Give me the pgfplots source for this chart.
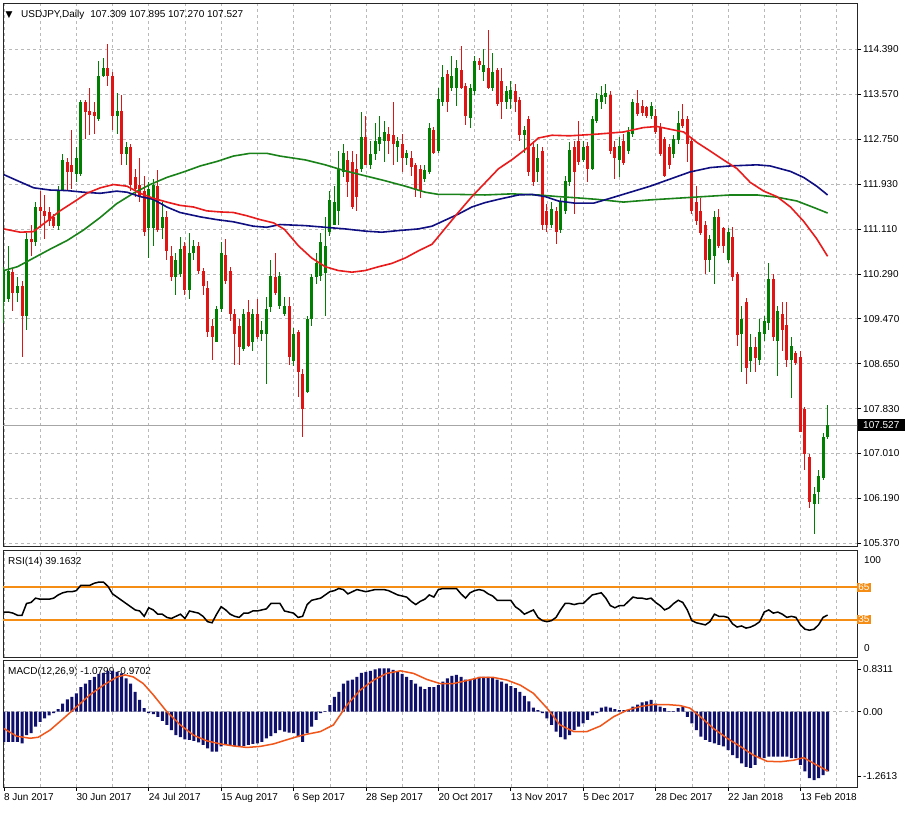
\documentclass[border=0pt]{standalone}
\usepackage{pgfplots}
\pgfplotsset{compat=1.18}
\usepackage{pgfplotstable}
\usepackage{fontspec}
\setmainfont{Liberation Sans}
\newfontfamily\dejavu{DejaVu Sans}

\definecolor{cgreen}{RGB}{0,128,0}
\definecolor{cred}{RGB}{225,20,20}
\definecolor{mared}{RGB}{232,28,28}
\definecolor{mablue}{RGB}{15,15,130}
\definecolor{magreen}{RGB}{25,130,25}
\definecolor{gridc}{RGB}{185,185,185}
\definecolor{rsiorange}{RGB}{245,140,20}
\definecolor{navyh}{RGB}{15,15,110}
\definecolor{sigc}{RGB}{240,85,25}

% daily candles: bar index, open, high, low, close
\pgfplotstableread{
b o h l c
0 109.78 110.42 109.40 110.35
1 109.84 110.80 109.78 110.35
2 110.32 110.39 109.62 109.94
3 109.94 110.23 109.78 110.07
4 110.07 110.16 108.78 109.52
5 109.52 111.03 109.27 110.93
6 110.93 111.19 110.61 110.87
7 110.87 111.60 110.80 111.51
8 111.51 111.80 111.12 111.44
9 111.44 111.73 110.93 111.35
10 111.41 111.51 111.16 111.25
11 111.32 111.38 111.12 111.16
12 111.16 111.89 111.09 111.83
13 111.83 112.47 111.80 112.37
14 112.34 112.40 111.83 112.15
15 112.28 112.92 111.83 112.15
16 112.12 112.60 111.96 112.40
17 112.12 113.46 112.08 113.43
18 113.43 113.46 112.76 113.24
19 113.27 113.69 112.82 113.20
20 113.24 113.43 112.85 113.17
21 113.11 114.17 113.08 113.91
22 113.91 114.23 113.88 114.04
23 114.04 114.49 113.72 113.91
24 113.91 113.97 112.92 113.17
25 113.17 113.59 112.85 113.27
26 113.27 113.56 112.28 112.47
27 112.47 112.69 112.28 112.60
28 112.60 112.66 111.80 111.92
29 112.05 112.21 111.70 111.83
30 111.92 112.40 111.60 111.70
31 111.80 112.08 110.99 111.06
32 111.12 111.96 110.58 111.83
33 111.12 112.02 110.80 111.92
34 111.89 112.18 111.06 111.09
35 111.12 111.60 110.93 111.32
36 111.32 111.44 110.55 110.71
37 110.61 110.80 110.16 110.23
38 110.23 110.67 109.91 110.55
39 110.29 110.96 110.23 110.74
40 110.80 110.87 109.91 110.00
41 110.00 111.03 109.84 110.67
42 110.67 110.90 110.55 110.80
43 110.80 110.87 110.29 110.35
44 110.35 110.39 109.91 110.07
45 110.03 110.16 109.14 109.23
46 109.33 109.46 108.72 109.14
47 109.04 109.71 109.04 109.65
48 109.65 110.87 109.59 110.67
49 110.64 110.93 110.10 110.16
50 110.35 110.42 109.43 109.55
51 109.55 109.65 108.63 109.20
52 109.33 109.46 108.63 108.95
53 108.91 109.65 108.88 109.55
54 109.59 109.81 108.95 108.98
55 109.04 109.65 108.88 109.55
56 109.55 109.84 109.11 109.14
57 109.20 109.43 109.07 109.27
58 109.20 109.87 108.27 109.65
59 109.68 110.55 109.59 110.26
60 110.23 110.67 109.91 109.94
61 109.71 110.32 109.65 110.26
62 109.55 109.87 109.52 109.71
63 109.71 109.87 108.63 108.78
64 108.70 109.30 108.60 109.20
65 109.23 109.27 108.05 108.50
66 108.46 108.56 107.31 107.83
67 108.14 109.52 108.11 109.46
68 109.46 110.29 109.33 110.23
69 110.23 110.67 110.10 110.48
70 110.26 111.03 110.16 110.87
71 110.30 111.32 109.52 110.80
72 111.06 111.80 110.99 111.64
73 111.19 111.89 111.19 111.60
74 111.44 112.53 111.19 112.21
75 112.15 112.66 112.05 112.50
76 112.37 112.53 111.70 111.96
77 112.34 112.53 111.47 111.51
78 112.21 112.47 111.44 111.70
79 112.21 113.24 112.15 112.79
80 112.79 113.17 112.28 112.28
81 112.28 112.72 112.21 112.47
82 112.47 113.04 112.37 112.72
83 112.66 113.17 112.53 112.79
84 112.72 113.08 112.34 112.88
85 112.85 112.98 112.47 112.72
86 112.82 113.43 112.28 112.66
87 112.60 112.79 112.34 112.72
88 112.66 112.85 112.15 112.40
89 112.40 112.56 112.28 112.50
90 112.40 112.53 112.08 112.24
91 112.28 112.31 111.70 111.83
92 112.21 112.28 111.67 111.80
93 112.02 112.28 111.96 112.18
94 112.15 113.04 112.12 112.95
95 112.92 112.98 112.47 112.50
96 112.53 113.69 112.50 113.49
97 113.43 114.10 113.36 113.88
98 113.94 114.01 113.24 113.43
99 113.69 114.26 113.62 113.91
100 113.69 114.20 113.36 114.04
101 114.01 114.45 113.66 113.69
102 113.72 113.78 113.01 113.17
103 113.14 113.75 112.95 113.69
104 113.62 114.26 113.56 114.17
105 114.17 114.23 114.01 114.10
106 113.98 114.39 113.81 114.10
107 114.04 114.74 113.66 113.69
108 113.69 114.33 113.62 113.97
109 114.01 114.04 113.36 113.40
110 113.81 114.04 113.11 113.43
111 113.43 113.72 113.30 113.62
112 113.49 113.81 113.30 113.65
113 113.62 113.75 113.24 113.43
114 113.46 113.52 112.72 112.82
115 112.82 112.98 112.50 112.92
116 113.11 113.17 112.08 112.15
117 112.60 112.72 111.89 111.96
118 112.15 112.66 111.96 112.40
119 112.53 112.60 111.09 111.19
120 111.44 111.57 111.06 111.19
121 111.19 111.60 111.12 111.47
122 111.44 111.51 110.83 111.06
123 111.09 111.67 111.03 111.60
124 111.44 112.08 111.38 111.99
125 111.96 112.69 111.89 112.56
126 112.60 112.72 111.38 112.15
127 112.72 113.08 112.28 112.34
128 112.37 112.72 112.34 112.60
129 112.63 112.69 111.96 112.21
130 112.21 113.17 112.18 113.11
131 113.08 113.59 113.04 113.49
132 113.43 113.72 113.30 113.56
133 113.52 113.75 113.40 113.59
134 113.56 113.62 112.47 112.53
135 112.60 112.72 112.02 112.40
136 112.37 112.79 112.05 112.63
137 112.72 112.85 112.28 112.31
138 112.53 112.98 112.47 112.88
139 112.85 113.49 112.79 113.43
140 113.40 113.65 113.17 113.20
141 113.36 113.46 113.17 113.23
142 113.33 113.36 113.14 113.17
143 113.17 113.43 113.11 113.36
144 113.17 113.30 112.85 112.88
145 112.95 113.04 112.44 112.47
146 112.76 112.79 112.05 112.08
147 112.60 112.66 112.21 112.28
148 112.47 112.82 112.40 112.76
149 112.73 113.27 112.66 113.04
150 113.11 113.40 112.95 112.98
151 113.11 113.17 112.34 112.66
152 112.72 112.79 111.38 111.44
153 111.60 111.89 111.19 111.25
154 111.44 111.67 110.99 111.03
155 111.19 111.25 110.29 110.55
156 110.55 111.00 110.32 110.93
157 110.61 111.44 110.10 111.32
158 111.32 111.47 110.77 110.80
159 111.12 111.15 110.67 110.80
160 110.55 111.12 110.48 111.06
161 110.96 111.15 110.16 110.23
162 110.29 110.32 108.98 109.17
163 109.20 109.71 108.50 109.46
164 109.78 109.84 108.27 108.57
165 108.69 109.20 108.50 108.95
166 108.95 109.14 108.50 108.75
167 108.72 109.46 108.63 109.23
168 109.20 109.52 109.07 109.43
169 109.40 110.48 109.27 110.19
170 110.19 110.29 109.07 109.14
171 109.07 109.71 108.43 109.62
172 109.55 109.78 108.88 109.27
173 109.36 109.78 108.59 108.72
174 108.72 109.14 108.02 108.98
175 108.85 108.88 108.63 108.66
176 108.78 108.88 107.41 107.41
177 107.83 107.85 106.71 107.01
178 106.95 107.00 106.01 106.13
179 106.09 106.40 105.55 106.28
180 106.31 106.71 106.09 106.59
181 106.56 107.38 106.53 107.32
182 107.309 107.895 107.270 107.527
}\candles

% RSI(14) and MACD histogram per bar
\pgfplotstableread{
b rsi macd
0 42 -0.59
1 42 -0.59
2 41 -0.59
3 39 -0.59
4 39 -0.62
5 50 -0.46
6 51 -0.42
7 55 -0.29
8 54 -0.20
9 54 -0.13
10 54 -0.07
11 55 -0.03
12 58 0.05
13 60 0.16
14 61 0.24
15 61 0.29
16 62 0.36
17 67 0.48
18 67 0.55
19 67 0.62
20 69 0.68
21 70 0.74
22 70 0.76
23 66 0.80
24 59 0.80
25 56 0.78
26 53 0.75
27 50 0.65
28 47 0.55
29 44 0.39
30 43 0.23
31 38 0.07
32 46 -0.03
33 44 -0.05
34 40 -0.10
35 40 -0.18
36 37 -0.26
37 36 -0.36
38 38 -0.46
39 40 -0.50
40 36 -0.54
41 43 -0.55
42 42 -0.57
43 41 -0.60
44 38 -0.65
45 33 -0.72
46 32 -0.78
47 40 -0.78
48 47 -0.68
49 44 -0.65
50 40 -0.65
51 38 -0.68
52 37 -0.68
53 41 -0.67
54 41 -0.65
55 43 -0.63
56 43 -0.62
57 44 -0.59
58 45 -0.52
59 50 -0.48
60 50 -0.42
61 50 -0.36
62 43 -0.39
63 42 -0.41
64 41 -0.42
65 37 -0.50
66 38 -0.59
67 49 -0.42
68 53 -0.29
69 54 -0.16
70 55 -0.03
71 58 0.01
72 61 0.13
73 62 0.29
74 64 0.39
75 63 0.55
76 59 0.61
77 61 0.63
78 63 0.68
79 62 0.76
80 61 0.78
81 62 0.80
82 63 0.83
83 63 0.85
84 63 0.85
85 62 0.85
86 60 0.82
87 58 0.78
88 57 0.74
89 56 0.68
90 52 0.62
91 49 0.55
92 52 0.49
93 54 0.44
94 58 0.48
95 56 0.48
96 63 0.52
97 64 0.59
98 64 0.65
99 64 0.70
100 64 0.72
101 59 0.68
102 55 0.63
103 60 0.62
104 62 0.65
105 63 0.68
106 62 0.68
107 59 0.68
108 57 0.67
109 53 0.63
110 53 0.59
111 53 0.55
112 53 0.50
113 47 0.46
114 44 0.39
115 40 0.31
116 42 0.20
117 44 0.08
118 37 0.03
119 34 -0.03
120 33 -0.13
121 34 -0.26
122 37 -0.39
123 44 -0.50
124 50 -0.54
125 50 -0.46
126 49 -0.36
127 50 -0.29
128 50 -0.23
129 54 -0.16
130 58 -0.07
131 59 -0.03
132 60 0.08
133 55 0.10
134 48 0.08
135 46 0.05
136 48 0.03
137 48 0.03
138 52 0.03
139 56 0.10
140 55 0.14
141 55 0.18
142 54 0.20
143 55 0.23
144 51 0.16
145 48 0.10
146 44 0.07
147 46 0.01
148 50 0.01
149 53 0.07
150 51 0.10
151 44 -0.10
152 34 -0.23
153 32 -0.36
154 31 -0.49
155 30 -0.55
156 33 -0.59
157 40 -0.62
158 38 -0.65
159 38 -0.68
160 37 -0.75
161 31 -0.85
162 28 -0.91
163 29 -1.01
164 27 -1.08
165 28 -1.10
166 30 -1.04
167 33 -0.91
168 42 -0.91
169 44 -0.88
170 41 -0.88
171 42 -0.88
172 40 -0.88
173 37 -0.88
174 38 -0.91
175 37 -0.91
176 30 -1.04
177 26 -1.17
178 25 -1.30
179 26 -1.34
180 30 -1.30
181 37 -1.24
182 39.16 -1.17
}\ind

\pgfplotsset{
  mtpanel/.style={
    scale only axis, width=854pt, xmin=-0.2, xmax=188.5, anchor=south west,
    axis line style={black!85, line width=0.9pt},
    xtick={0,16,...,176}, minor xtick={8,24,...,184},
    xmajorgrids, xminorgrids, minor tick length=0pt,
    grid style={gridc, dash pattern=on 3pt off 3pt, line width=0.5pt},
    minor grid style={gridc, dash pattern=on 3pt off 3pt, line width=0.5pt},
    xticklabels={}, xtick style={draw=none},
    ytick pos=right, yticklabel pos=right,
    tick align=outside, major tick length=4pt,
    tick style={black, line width=0.6pt},
    ticklabel style={font=\fontsize{10}{12}\selectfont},
    yticklabel style={inner xsep=2pt},
  },
  wick/.style={draw=none, mark=none, forget plot,
    error bars/y dir=both, error bars/y explicit, error bars/error mark=none,
    error bars/error bar style={line width=1pt, draw=#1}},
  body/.style={draw=none, mark=none, forget plot,
    error bars/y dir=both, error bars/y explicit, error bars/error mark=none,
    error bars/error bar style={line width=3pt, draw=#1}},
}

\begin{document}
\begin{tikzpicture}
\useasboundingbox (0pt,0pt) rectangle (906pt,816pt);
\fill[white] (0pt,0pt) rectangle (906pt,816pt);

% ---------------- price panel ----------------
\begin{axis}[mtpanel, at={(3pt,270pt)}, height=543pt,
    ymin=105.321, ymax=115.235, ymajorgrids,
    ytick={105.37,106.19,107.01,107.83,108.65,109.47,110.29,111.11,111.93,112.75,113.57,114.39},
    yticklabels={105.370,106.190,107.010,107.830,108.650,109.470,110.290,111.110,111.930,112.750,113.570,114.390}]

\addplot[gray!70, line width=0.8pt, forget plot] coordinates {(-1,107.527) (190,107.527)};

\addplot[restrict expr to domain={\thisrow{c}-\thisrow{o}}{0:100}, wick=cgreen]
  table[x=b, y expr={(\thisrow{h}+\thisrow{l})/2}, y error expr={(\thisrow{h}-\thisrow{l})/2}] {\candles};
\addplot[restrict expr to domain={\thisrow{c}-\thisrow{o}}{-100:-0.00001}, wick=cred]
  table[x=b, y expr={(\thisrow{h}+\thisrow{l})/2}, y error expr={(\thisrow{h}-\thisrow{l})/2}] {\candles};
\addplot[restrict expr to domain={\thisrow{c}-\thisrow{o}}{0:100}, body=cgreen]
  table[x=b, y expr={(\thisrow{o}+\thisrow{c})/2}, y error expr={max(abs(\thisrow{c}-\thisrow{o})/2,0.012)}] {\candles};
\addplot[restrict expr to domain={\thisrow{c}-\thisrow{o}}{-100:-0.00001}, body=cred]
  table[x=b, y expr={(\thisrow{o}+\thisrow{c})/2}, y error expr={max(abs(\thisrow{c}-\thisrow{o})/2,0.012)}] {\candles};

% moving averages
\addplot[magreen, line width=1.6pt] coordinates {
(0,110.35)(3,110.42)(6.6,110.58)(10.2,110.74)(14,110.90)(17.6,111.09)(21.3,111.32)(24.9,111.57)(28.6,111.76)(32.3,111.92)(36,112.05)(39.7,112.15)(43.4,112.26)(47,112.34)(50.7,112.44)(54.4,112.49)(58.1,112.49)(61,112.44)(66.6,112.37)(71,112.28)(75.4,112.17)(79.8,112.08)(84.2,111.99)(88.7,111.89)(93.1,111.78)(96,111.74)(100.4,111.74)(106.3,111.73)(112.2,111.75)(118.1,111.73)(122.5,111.70)(126.2,111.68)(131,111.65)(136.9,111.60)(142.8,111.64)(148.7,111.67)(154.6,111.70)(160.5,111.73)(166.4,111.73)(170.8,111.69)(175.2,111.62)(179.6,111.48)(182,111.40)};
\addplot[mablue, line width=1.6pt] coordinates {
(0,112.10)(3,111.99)(6.6,111.86)(10.2,111.82)(14,111.81)(17.6,111.78)(21.3,111.76)(24.9,111.80)(27.2,111.78)(30.1,111.70)(33,111.65)(36,111.51)(38.9,111.41)(43.4,111.33)(47,111.28)(50.7,111.24)(55.1,111.16)(58.1,111.14)(61,111.19)(66.6,111.17)(71,111.14)(75.4,111.11)(79.8,111.07)(83.5,111.05)(87.2,111.08)(91.6,111.11)(94.6,111.16)(97.5,111.27)(100.4,111.38)(103.4,111.51)(106.3,111.59)(109.3,111.65)(113.7,111.73)(116.7,111.74)(119.6,111.70)(122.5,111.62)(126.2,111.58)(130.3,111.58)(134,111.67)(138.4,111.78)(142.8,111.89)(147.2,112.02)(151.6,112.15)(156.1,112.23)(160.5,112.26)(166.4,112.28)(169.3,112.26)(173.8,112.16)(176.7,112.05)(179.6,111.89)(182,111.73)};
\addplot[mared, line width=1.6pt] coordinates {
(0,111.11)(3.6,111.05)(6.5,111.06)(9.5,111.25)(12.4,111.44)(15.4,111.60)(18.3,111.76)(21.3,111.86)(24.2,111.92)(27.2,111.89)(30.1,111.76)(33,111.67)(36,111.60)(38.9,111.54)(41.9,111.51)(44.8,111.44)(47.8,111.42)(50.7,111.41)(53.7,111.35)(56.6,111.28)(59.6,111.22)(62,111.10)(65.1,110.80)(68,110.58)(71,110.42)(73.9,110.35)(76.9,110.32)(79.8,110.35)(82.8,110.42)(85.7,110.48)(88.7,110.58)(91.6,110.71)(94.6,110.83)(97.5,111.12)(100.4,111.41)(103.4,111.70)(106.3,111.95)(109.3,112.21)(112.2,112.37)(115.2,112.56)(118.1,112.77)(121.1,112.82)(125,112.81)(131,112.84)(136.9,112.88)(141.3,112.96)(144.3,112.98)(147.2,112.93)(150.2,112.88)(153.1,112.69)(156.1,112.53)(159,112.37)(162,112.21)(164.9,111.96)(167.9,111.80)(170.8,111.70)(173.8,111.51)(176.7,111.25)(179.6,110.93)(182,110.61)};
\end{axis}

% ---------------- RSI panel ----------------
\begin{axis}[mtpanel, at={(3pt,159pt)}, height=107pt,
    ymin=0, ymax=100, ytick=\empty]
\addplot[rsiorange, line width=2pt] coordinates {(-1,65) (190,65)};
\addplot[rsiorange, line width=2pt] coordinates {(-1,35) (190,35)};
\addplot[black, line width=1.5pt] table[x=b, y=rsi] {\ind};
\end{axis}

% MACD caption sits beneath the histogram
\node[anchor=west, inner sep=0pt, font=\fontsize{10}{12}\selectfont] at (8pt,144pt) {MACD(12,26,9) -1.0799 -0.9702};

% ---------------- MACD panel ----------------
\begin{axis}[mtpanel, at={(3pt,29pt)}, height=127pt,
    ymin=-1.474, ymax=1.012,
    ytick={-1.2613,0,0.8311}, yticklabels={-1.2613,0.00,0.8311},
    xtick pos=bottom, xtick style={draw=black},
    xticklabels={8 Jun 2017,30 Jun 2017,24 Jul 2017,15 Aug 2017,6 Sep 2017,28 Sep 2017,20 Oct 2017,13 Nov 2017,5 Dec 2017,28 Dec 2017,22 Jan 2018,13 Feb 2018},
    xticklabel style={anchor=north west, inner xsep=0pt, inner ysep=2pt}]
\addplot[gridc, dash pattern=on 3pt off 3pt, line width=0.5pt] coordinates {(-1,0) (190,0)};
\addplot[ybar, bar width=3pt, fill=navyh, draw=none] table[x=b, y=macd] {\ind};
\addplot[sigc, line width=1.5pt] coordinates {
(0,-0.33)(2.8,-0.48)(5.8,-0.52)(7.6,-0.50)(10.2,-0.36)(13.2,-0.13)(16.1,0.10)(19,0.33)(22,0.52)(25,0.68)(26.8,0.72)(28.6,0.68)(30.8,0.55)(33,0.33)(36,0.0)(39,-0.26)(41.9,-0.46)(44.8,-0.57)(47.8,-0.63)(50.7,-0.67)(53.7,-0.70)(56.6,-0.68)(59.6,-0.63)(62.5,-0.55)(65.1,-0.48)(67,-0.44)(69.9,-0.39)(72.8,-0.26)(75.8,0.13)(78.7,0.42)(81.7,0.62)(84.6,0.75)(87.6,0.80)(90.5,0.75)(93.5,0.63)(96.4,0.55)(99.3,0.55)(102.3,0.61)(105.2,0.67)(108.2,0.67)(111.1,0.62)(114.1,0.52)(117,0.36)(120,0.07)(122.9,-0.26)(125.9,-0.39)(128.8,-0.39)(131.8,-0.28)(134.7,-0.10)(137.7,0.03)(140.6,0.10)(143.5,0.14)(146.5,0.14)(149.4,0.12)(151.6,0.07)(153.9,-0.10)(156.8,-0.33)(159.8,-0.52)(162.7,-0.68)(165.6,-0.85)(168.6,-0.97)(171.5,-0.98)(174.5,-0.95)(176.7,-0.90)(178.9,-1.01)(182,-1.16)};
\end{axis}

% captions and side labels
\node[anchor=west, inner sep=0pt, font=\dejavu\fontsize{9}{10}\selectfont] at (5.5pt,801pt) {▼};
\node[anchor=west, inner sep=0pt, font=\fontsize{10}{12}\selectfont] at (21pt,801pt) {USDJPY,Daily\hspace{6pt}107.309 107.895 107.270 107.527};
\node[anchor=west, inner sep=0pt, font=\fontsize{10}{12}\selectfont] at (8pt,254pt) {RSI(14) 39.1632};

\fill[black] (858pt,385pt) rectangle (905pt,397pt);
\node[anchor=west, inner sep=0pt, text=white, font=\fontsize{10}{12}\selectfont] at (863pt,391pt) {107.527};

\node[anchor=west, inner sep=0pt, font=\fontsize{10}{12}\selectfont] at (864pt,256pt) {100};
\node[anchor=west, inner sep=0pt, font=\fontsize{10}{12}\selectfont] at (864pt,168pt) {0};
\node[anchor=west, fill=rsiorange, text=white, inner xsep=1.2pt, inner ysep=1.2pt, font=\fontsize{10}{11}\selectfont] at (857pt,228.5pt) {65};
\node[anchor=west, fill=rsiorange, text=white, inner xsep=1.2pt, inner ysep=1.2pt, font=\fontsize{10}{11}\selectfont] at (857pt,196.5pt) {35};
\end{tikzpicture}
\end{document}
